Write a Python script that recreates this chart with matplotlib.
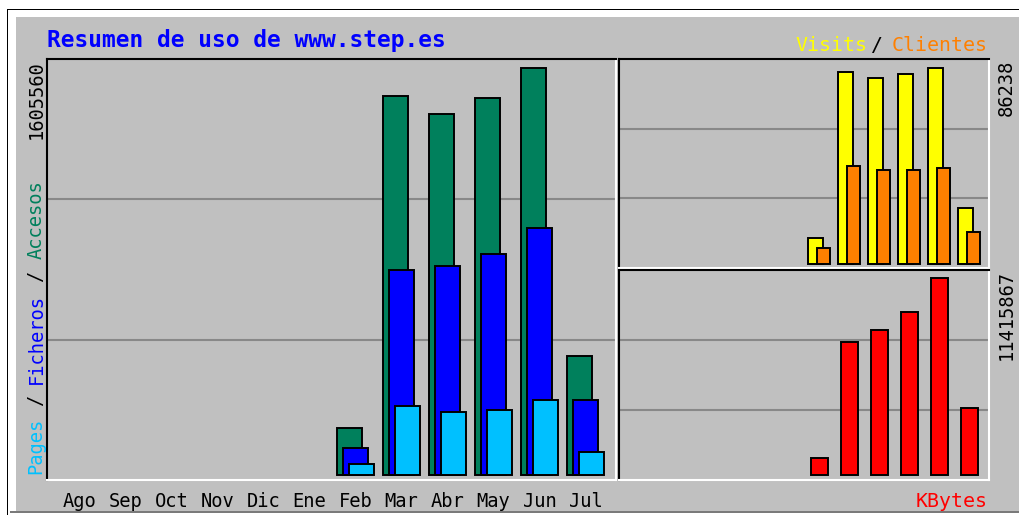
import numpy as np
import matplotlib.pyplot as plt
from matplotlib.patches import Rectangle

# datos mensuales (Ago .. Jul)
meses = ["Ago", "Sep", "Oct", "Nov", "Dic", "Ene", "Feb", "Mar", "Abr", "May", "Jun", "Jul"]
accesos = [0, 0, 0, 0, 0, 0, 184100, 1495200, 1424300, 1487300, 1605560, 469100]
ficheros = [0, 0, 0, 0, 0, 0, 105200, 808100, 825100, 871200, 974900, 294500]
paginas = [0, 0, 0, 0, 0, 0, 42200, 272000, 247200, 255000, 294500, 89500]
visitas = [0, 0, 0, 0, 0, 0, 11670, 84480, 81850, 83470, 86238, 24560]
clientes = [0, 0, 0, 0, 0, 0, 7280, 43120, 41360, 41500, 42240, 14040]
kbytes = [0, 0, 0, 0, 0, 0, 969200, 7701000, 8398000, 9443000, 11415867, 3871000]

W, H = 1019, 515
BG = "#C0C0C0"
MONO = "DejaVu Sans Mono"
FS = 13.5
ADV = 0.602 * FS * 100 / 72  # avance de un caracter en px

fig = plt.figure(figsize=(W / 100, H / 100), dpi=100, facecolor="white")


def px_rect(x0, y0, x1, y1, color):
    fig.patches.append(Rectangle((x0 / W, 1 - y1 / H), (x1 - x0) / W, (y1 - y0) / H,
                                 transform=fig.transFigure, facecolor=color,
                                 edgecolor="none", zorder=-5))


def px_text(x, y, s, **kw):
    kw.setdefault("family", MONO)
    kw.setdefault("fontsize", FS)
    fig.text(x / W, 1 - y / H, s, **kw)


def px_axes(x0, y0, x1, y1):
    ax = fig.add_axes([x0 / W, 1 - y1 / H, (x1 - x0) / W, (y1 - y0) / H])
    ax.set_facecolor(BG)
    ax.set_xticks([])
    ax.set_yticks([])
    for side in ("top", "left"):
        ax.spines[side].set_color("black")
        ax.spines[side].set_linewidth(1.5)
    for side in ("bottom", "right"):
        ax.spines[side].set_color("white")
        ax.spines[side].set_linewidth(1.5)
    for f in (1 / 3, 2 / 3):
        ax.plot([0, 1], [f, f], transform=ax.transAxes, color="#888888",
                lw=1.5, zorder=0)
    return ax


def barras(ax, valores, offset, width, color):
    v = np.array(valores, dtype=float)
    x = np.arange(len(v)) + offset
    m = v > 0
    ax.bar(x[m], v[m], width=width, color=color, edgecolor="black",
           linewidth=1.4, zorder=2)


# marco exterior
px_rect(7, 9, W, H, "black")
px_rect(8, 10, W, H, "white")
px_rect(16, 17, W, 511, BG)
px_rect(10, 511, W, 513, "#7A7A7A")

# panel principal: accesos / ficheros / paginas
ax = px_axes(47, 59, 616, 480)
barras(ax, accesos, -0.135, 0.545, "#00805C")
barras(ax, ficheros, 0.0, 0.545, "#0000FF")
barras(ax, paginas, 0.135, 0.545, "#00C0FF")
ax.set_xlim(-0.7065, 11.663)
vmax = max(accesos)
ax.set_ylim(-0.0123 * vmax, 1.0214 * vmax)

# panel visitas / clientes
ax2 = px_axes(619, 59, 989, 268)
barras(ax2, visitas, -0.117, 0.5, "#FFFF00")
barras(ax2, clientes, 0.14, 0.42, "#FF8000")
ax2.set_xlim(-0.683, 11.65)
vmax2 = max(visitas)
ax2.set_ylim(-0.0188 * vmax2, 1.0443 * vmax2)

# panel kbytes
ax3 = px_axes(619, 270, 989, 480)
barras(ax3, kbytes, 0.0, 0.58, "#FF0000")
ax3.set_xlim(-0.683, 11.65)
vmax3 = max(kbytes)
ax3.set_ylim(-0.0254 * vmax3, 1.0422 * vmax3)

# textos
px_text(47, 47, "Resumen de uso de www.step.es", color="#0000FF",
        fontsize=16.5, fontweight="bold", va="baseline")
px_text(867, 51, "Visits", color="#FFFF00", fontsize=14.3, ha="right", va="baseline")
px_text(876.5, 51, "/", color="black", fontsize=14.3, ha="center", va="baseline")
px_text(988, 51, "Clientes", color="#FF8000", fontsize=14.3, ha="right", va="baseline")
px_text(988, 507, "KBytes", color="#FF0000", fontsize=14.3, ha="right", va="baseline")

for i, mes in enumerate(meses):
    px_text(79.5 + 46 * i, 507, mes, color="black", ha="center", va="baseline")

etiqueta = [(0, "Pages", "#00C0FF"), (6, "/", "black"), (8, "Ficheros", "#0000FF"),
            (17, "/", "black"), (19, "Accesos", "#00805C")]
for i0, s, c in etiqueta:
    yc = 474 - (i0 + len(s) / 2) * ADV
    px_text(36, yc, s, color=c, rotation=90, ha="center", va="center")

px_text(36, 60, f"{max(accesos)}", color="black", rotation=90, ha="center", va="top")
px_text(1006, 60, f"{max(visitas)}", color="black", rotation=90, ha="center", va="top")
px_text(1006, 270, f"{max(kbytes)}", color="black", rotation=90, ha="center", va="top")

fig.savefig("out.png", dpi=100, facecolor=fig.get_facecolor())
